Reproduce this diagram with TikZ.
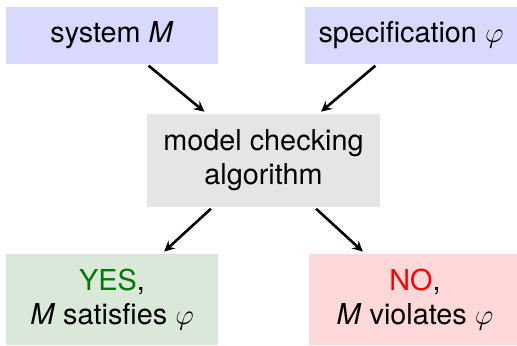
\documentclass[tikz,border=0pt]{standalone}
\usepackage{fontspec}
\setmainfont{TeX Gyre Heros}
\usetikzlibrary{positioning}

\definecolor{sysblue}{RGB}{217,217,255}
\definecolor{alggray}{RGB}{229,229,229}
\definecolor{yesgreen}{RGB}{217,232,217}
\definecolor{nored}{RGB}{255,217,217}
\definecolor{yestext}{RGB}{0,120,0}

\begin{document}
\begin{tikzpicture}[>=stealth, x=1pt, y=1pt,
        box/.style={inner sep=0pt, align=center, minimum width=106pt,
            font=\fontsize{14.4}{17}\selectfont},
        arr/.style={->, line width=1.3pt, shorten <=1pt, shorten >=1.5pt}]
        \useasboundingbox (0,0) rectangle (258.5,172.5);
        \begin{scope}
        \clip (0,0) rectangle (258.5,172.5);
        \node[box, fill=sysblue, minimum height=28.5pt] (sys) at (56,154.75) {system \textit{M}};
        \node[box, fill=sysblue, minimum height=28.5pt] (spec) at (205.5,154.75) {specification $\varphi$};
        \node[box, fill=alggray, minimum width=116.5pt, minimum height=46.5pt] (alg) at (131.75,92.25) {model checking\\algorithm};
        \node[box, fill=yesgreen, minimum height=45.5pt] (yes) at (56,22.75) {\textcolor{yestext}{YES},\\\textit{M} satisfies $\varphi$};
        \node[box, fill=nored, minimum height=45.5pt] (no) at (207.5,22.75) {\textcolor{red}{NO},\\\textit{M} violates $\varphi$};
        \end{scope}
        \draw[arr] (sys) -- (alg);
        \draw[arr] (spec) -- (alg);
        \draw[arr] (alg) -- (yes);
        \draw[arr] (alg) -- (no);
    \end{tikzpicture}
\end{document}
